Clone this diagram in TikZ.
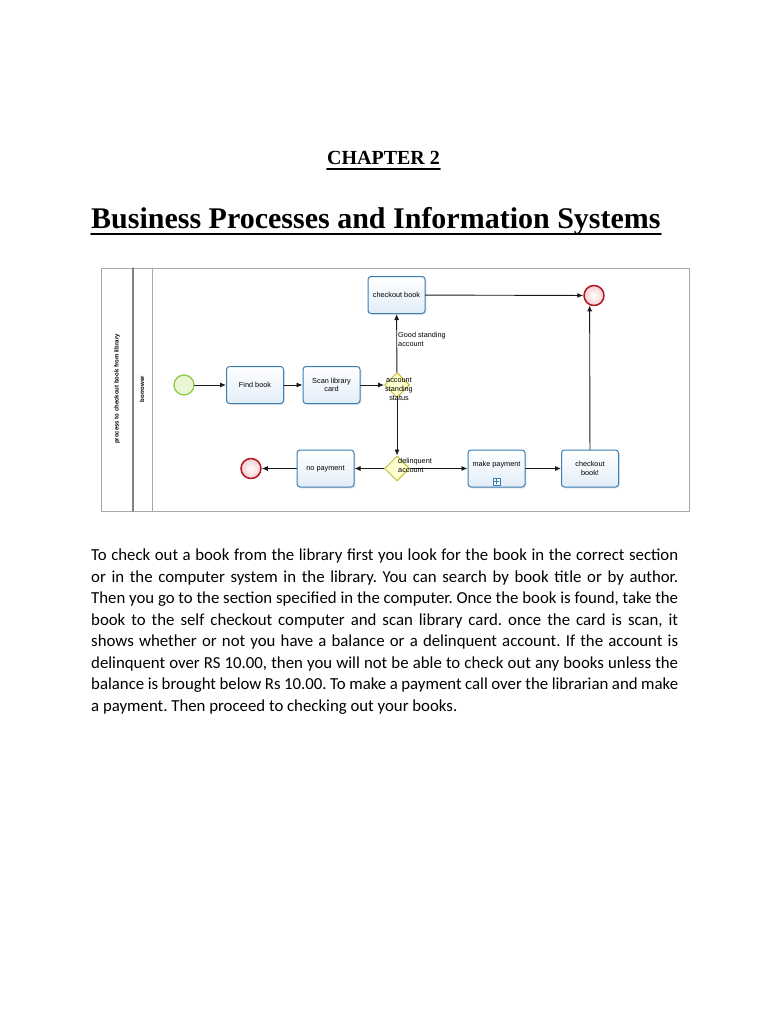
\documentclass[tikz,border=0pt]{standalone}
\usepackage{fontspec}
\setmainfont{Liberation Serif}
\newfontfamily\diagfont{Liberation Sans}
\newfontfamily\bodyfont{Carlito}
\usetikzlibrary{arrows.meta,shapes.geometric,shadows,positioning}

\definecolor{taskline}{HTML}{3B7EB4}
\definecolor{taskfill}{HTML}{E2EDF8}
\definecolor{startline}{HTML}{8DC641}
\definecolor{startfill}{HTML}{EAF6D4}
\definecolor{endline}{HTML}{B3161E}
\definecolor{endfill}{HTML}{F5CDD0}
\definecolor{gwline}{HTML}{C2BE3A}
\definecolor{gwfill}{HTML}{FFFFD0}
\definecolor{framegray}{HTML}{A8A8A8}

\begin{document}
\begin{tikzpicture}[x=1pt, y=-1pt, >={Latex[length=6pt,width=5pt]}, line cap=round, line join=round,
		task/.style={draw=taskline, line width=1pt, top color=white, bottom color=taskfill,
			rounded corners=3pt, minimum width=57pt, minimum height=37pt, inner sep=1pt,
			align=center, font=\diagfont\fontsize{7.3}{8.7}\selectfont,
			drop shadow={opacity=0.18, shadow xshift=1.5pt, shadow yshift=-1.5pt}},
		startev/.style={circle, draw=startline, line width=1.2pt, fill=startfill, minimum size=20pt, inner sep=0pt},
		endev/.style={circle, draw=endline, line width=1.5pt, inner color=white, outer color=endfill,
			minimum size=20pt, inner sep=0pt},
		gateway/.style={diamond, draw=gwline, line width=1pt, fill=gwfill, minimum size=25pt, inner sep=0pt},
		lbl/.style={font=\diagfont\fontsize{7.3}{8.7}\selectfont, align=left, inner sep=0pt},
		lane/.style={font=\diagfont\bfseries\fontsize{6}{7}\selectfont, rotate=90, inner sep=0pt},
		flow/.style={->, draw=black!90, line width=0.9pt}]
		\useasboundingbox (0,0) rectangle (768,1024);
		\fill[white] (0,0) rectangle (768,1024);

		% headings
		\node[anchor=base, inner sep=0pt, font=\bfseries\fontsize{20}{24}\selectfont] (chapter) at (383.5,165) {CHAPTER 2};
		\draw[line width=1.4pt] ([yshift=-4pt]chapter.base west) -- ([yshift=-4pt]chapter.base east);
		\node[anchor=base west, inner sep=0pt, font=\bfseries\fontsize{30}{36}\selectfont] (title) at (91,229) {Business Processes and Information Systems};
		\draw[line width=1.9pt] ([yshift=-5pt]title.base west) -- ([yshift=-5pt]title.base east);

		% pool and lane
		\draw[framegray, line width=0.8pt] (101,268) rectangle (689,511);
		\draw[gray, line width=1.5pt] (133,268) -- (133,511);
		\draw[framegray, line width=0.8pt] (152,268) -- (152,511);
		\node[lane] (pool) at (117,389) {process to checkout book from library};
		\node[lane] (borrower) at (142,389) {borrower};

		% events, tasks and gateways
		\node[startev] (start) at (184,385) {};
		\node[task] (find) at (255,385) {Find book};
		\node[task] (scan) at (331.5,385) {Scan library\\card};
		\node[gateway] (status) at (397,385) {};
		\node[lbl, align=center] (statuslbl) at (399,389) {account\\standing\\status};
		\node[task] (checkout) at (396.5,295) {checkout book};
		\node[endev] (endtop) at (594,295.5) {};
		\node[gateway] (delq) at (397,468.5) {};
		\node[task] (nopay) at (325.5,468.5) {no payment};
		\node[endev] (endleft) at (251,468.5) {};
		\node[task] (makepay) at (496.5,468.5) {make payment\\\phantom{x}};
		\node[draw=taskline, fill=white, line width=0.8pt, minimum size=7pt, inner sep=0pt] (plusbox) at (496.5,481.5) {};
		\draw[taskline, line width=1pt] ([yshift=-1.5pt]plusbox.north) -- ([yshift=1.5pt]plusbox.south);
		\draw[taskline, line width=1pt] ([xshift=1.5pt]plusbox.west) -- ([xshift=-1.5pt]plusbox.east);
		\node[task] (checkout2) at (590,468.5) {checkout\\book!};

		% sequence flows
		\draw[flow] (start) -- (find);
		\draw[flow] (find) -- (scan);
		\draw[flow] (scan) -- (status);
		\draw[flow] (status) -- (checkout);
		\draw[flow] (status) -- (delq);
		\draw[flow] (checkout) -- (endtop);
		\draw[flow] (delq) -- (nopay);
		\draw[flow] (nopay) -- (endleft);
		\draw[flow] (delq) -- (makepay);
		\draw[flow] (makepay) -- (checkout2);
		\draw[flow] (checkout2) -- (endtop.246);
		\node[lbl, anchor=west] (goodlbl) at (398,339.5) {Good standing\\account};
		\node[lbl, anchor=west] (delqlbl) at (398,465.5) {delinquent\\account};

		% paragraph
		\node[anchor=north west, inner sep=0pt, text width=587pt, align=justify,
			font=\bodyfont\fontsize{16.8}{21.5}\selectfont] (body) at (91,549) {\frenchspacing\hyphenpenalty=10000\tolerance=10000
			To check out a book from the library first you look for the book in the correct section\linebreak
			or in the computer system in the library. You can search by book title or by author.\linebreak
			Then you go to the section specified in the computer. Once the book is found, take the\linebreak
			book to the self checkout computer and scan library card. once the card is scan, it\linebreak
			shows whether or not you have a balance or a delinquent account. If the account is\linebreak
			delinquent over RS 10.00, then you will not be able to check out any books unless the\linebreak
			balance is brought below Rs 10.00. To make a payment call over the librarian and make\linebreak
			a payment. Then proceed to checking out your books.};
	\end{tikzpicture}
\end{document}
